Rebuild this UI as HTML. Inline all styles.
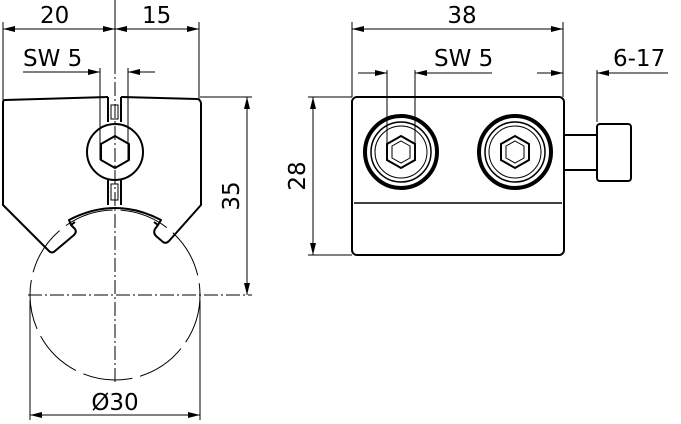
<!DOCTYPE html>
<html><head><style>html,body{margin:0;padding:0;background:#fff}svg{display:block}</style></head><body>
<svg width="681" height="424" viewBox="0 0 681 424" xmlns="http://www.w3.org/2000/svg" font-family="'DejaVu Sans','Liberation Sans',sans-serif" font-size="20" fill="none" stroke="#000">
<defs>
<marker id="a" viewBox="0 0 12 6" refX="12" refY="3" markerWidth="12" markerHeight="6" orient="auto-start-reverse" markerUnits="userSpaceOnUse"><path d="M0,0L12,3L0,6z" fill="#000" stroke="none"/></marker>
</defs>
<g stroke-width="1">
<line x1="3" y1="22" x2="3" y2="100"/><line x1="199" y1="22" x2="199" y2="100"/><line x1="115" y1="0" x2="115" y2="60"/>
<line x1="3" y1="29" x2="115" y2="29" marker-start="url(#a)" marker-end="url(#a)"/>
<line x1="115" y1="29" x2="199" y2="29" marker-start="url(#a)" marker-end="url(#a)"/>
<line x1="23" y1="72" x2="100" y2="72" marker-end="url(#a)"/>
<line x1="128" y1="72" x2="155" y2="72"/><line x1="128" y1="72" x2="140" y2="72" marker-start="url(#a)"/>
<line x1="100" y1="68" x2="100" y2="160"/><line x1="128" y1="68" x2="128" y2="160"/>
<line x1="200" y1="97" x2="252" y2="97"/>
<line x1="247" y1="97" x2="247" y2="295" marker-start="url(#a)" marker-end="url(#a)"/>
<line x1="30" y1="300" x2="30" y2="420"/><line x1="200" y1="300" x2="200" y2="420"/>
<line x1="30" y1="415" x2="200" y2="415" marker-start="url(#a)" marker-end="url(#a)"/>
<line x1="28" y1="295" x2="252" y2="295" stroke-dasharray="14,3,2,3"/>
<line x1="115" y1="60" x2="115" y2="385" stroke-dasharray="14,3,2,3"/>
<circle cx="115" cy="295" r="85" stroke-dasharray="50,8"/>
</g>
<g stroke-width="2" stroke-linejoin="round">
<path d="M108,97 L5,100 Q3,100 3,103 L3,205 L49,251 Q52,254 55,251 L74,235 Q77,232 75,229 L71,225 L69,220 Q115,196 161,220 L158,225 L155,229 Q153,233 156,236 L163,242 Q166,244 169,241 L201,205 L201,103 Q200,99 197,99 L121,97"/>
<path d="M71,225 L75,222 M158,225 L154,222"/>
<path d="M108,97 L108,122 M121,97 L121,122 M108,180 L108,205 M121,180 L121,205"/>
<circle cx="115" cy="152" r="28"/>
<polygon points="115,136 129,144 129,160 115,168 101,160 101,144"/>
</g>
<rect x="111" y="105" width="7" height="14" stroke-width="1"/>
<rect x="111" y="184" width="7" height="16" stroke-width="1"/>
<g fill="#000" stroke="none" font-size="23">
<text x="40" y="23">20</text><text x="142" y="23">15</text>
<text x="23" y="66">SW 5</text>
<text x="115" y="410" text-anchor="middle">Ø30</text>
<text transform="translate(239,196) rotate(-90)" text-anchor="middle">35</text>
</g>
<g stroke-width="1">
<line x1="352" y1="22" x2="352" y2="97"/><line x1="563" y1="22" x2="563" y2="97"/>
<line x1="352" y1="29" x2="563" y2="29" marker-start="url(#a)" marker-end="url(#a)"/>
<line x1="358" y1="73" x2="387" y2="73" marker-end="url(#a)"/>
<line x1="415" y1="73" x2="492" y2="73"/><line x1="415" y1="73" x2="430" y2="73" marker-start="url(#a)"/>
<line x1="387" y1="70" x2="387" y2="150"/><line x1="415" y1="70" x2="415" y2="150"/>
<line x1="537" y1="73" x2="563" y2="73" marker-end="url(#a)"/>
<line x1="597" y1="73" x2="668" y2="73"/><line x1="597" y1="73" x2="612" y2="73" marker-start="url(#a)"/>
<line x1="597" y1="70" x2="597" y2="122"/>
<line x1="308" y1="97" x2="352" y2="97"/><line x1="308" y1="255" x2="352" y2="255"/>
<line x1="313" y1="97" x2="313" y2="255" marker-start="url(#a)" marker-end="url(#a)"/>
</g>
<g stroke-width="2">
<rect x="352" y="97" width="212" height="158" rx="5"/>
<line x1="354" y1="203" x2="562" y2="203" stroke-width="1.5"/>
<path d="M564,135 L597,135 M564,170 L597,170"/>
<rect x="597" y="124" width="34" height="57" rx="3"/>
<circle cx="401" cy="152" r="36" stroke-width="4"/>
<circle cx="401" cy="152" r="30" stroke-width="1.5"/>
<circle cx="401" cy="152" r="26" stroke-width="1"/>
<polygon points="401,136 415,144 415,160 401,168 387,160 387,144"/>
<polygon points="401,141 410,146 410,158 401,163 392,158 392,146" stroke-width="1"/>
<circle cx="515" cy="152" r="36" stroke-width="4"/>
<circle cx="515" cy="152" r="30" stroke-width="1.5"/>
<circle cx="515" cy="152" r="26" stroke-width="1"/>
<polygon points="515,136 529,144 529,160 515,168 501,160 501,144"/>
<polygon points="515,141 524,146 524,158 515,163 506,158 506,146" stroke-width="1"/>
</g>
<g fill="#000" stroke="none" font-size="23">
<text x="462" y="23" text-anchor="middle">38</text>
<text x="434" y="66">SW 5</text>
<text x="613" y="66">6-17</text>
<text transform="translate(305,176) rotate(-90)" text-anchor="middle">28</text>
</g>
</svg>
</body></html>
